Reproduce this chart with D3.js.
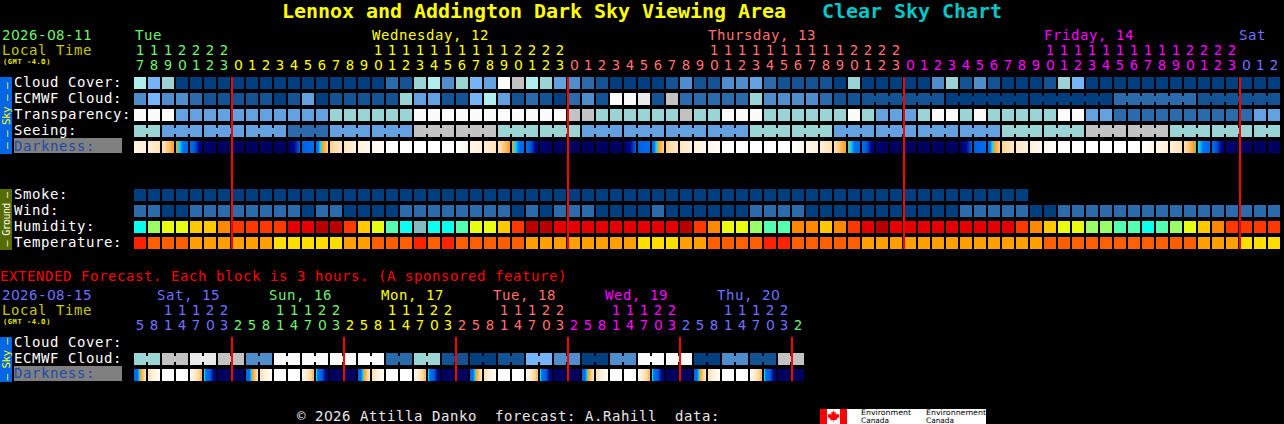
<!DOCTYPE html>
<html>
<head>
<meta charset="utf-8">
<script src="https://cdn.jsdelivr.net/npm/d3@7/dist/d3.min.js"></script>
<style>
@font-face { font-family: "PlainZero"; src: local("DejaVu Sans"), local("DejaVuSans"); unicode-range: U+30; }
html, body { margin: 0; padding: 0; background: #000; }
svg { display: block; }
text { font-family: "PlainZero", "DejaVu Sans Mono", monospace; white-space: pre; }
</style>
</head>
<body>
<svg id="chart" width="1284" height="424"></svg>
<script>
// ---------- data: main forecast (one value per hour) ----------
const cloudCover = [
  7,5,6,0,0,0,0,0,0,0,
  0,0,0,0,0,0,0,0,2,1,
  6,7,3,6,5,4,10,8,7,6,
  4,3,2,1,0,0,0,0,1,3,
  1,1,3,3,4,2,1,1,1,1,
  0,6,0,0,0,0,0,3,6,1,
  3,1,0,0,0,1,6,5,0,0,
  0,0,0,0,0,0,0,0,0,0,0,0];
const ecmwfCloud = [
  3,5,3,3,2,1,1,1,1,1,
  0,1,4,0,1,1,1,1,1,6,
  4,4,1,1,5,7,4,1,2,1,
  0,2,3,1,10,10,9,1,8,2,
  2,2,2,2,6,3,3,3,3,2,
  1,1,1,1,1,1,1,1,0,0,
  0,0,0,0,0,0,0,0,0,0,
  2,2,2,2,2,2,1,1,1,1,1,1];
const transparency = [
  10,10,10,4,4,4,4,4,4,4,
  4,4,4,4,6,6,6,6,6,6,
  10,10,10,10,10,10,10,10,10,10,
  10,8,8,6,6,6,6,6,6,8,
  6,6,10,10,10,6,6,6,6,6,
  6,10,6,4,4,4,6,10,10,6,
  10,6,6,6,6,6,10,10,4,4,
  2,2,2,2,2,2,2,2,2,2,4,4];
const seeing = [
  6,6,4,4,4,4,4,4,4,4,
  4,2,2,2,4,4,4,4,4,4,
  8,8,8,8,8,8,6,6,6,6,
  6,6,4,4,4,4,4,4,4,4,
  4,4,4,4,6,6,6,6,6,6,
  4,4,4,4,4,4,4,4,4,4,
  4,4,6,6,6,6,6,6,8,8,
  8,8,8,8,6,6,6,6,6,6,6,6];
// darkness at each block edge (0 = daylight ... 7 = fully dark); 83 edges for 82 blocks
const darknessEdges = [
  0.8,1.1,1.7,3,4.2,6.5,7,7,7,7,
  7,7,5,4,2.2,1.6,1,0.7,0.3,0,
  0,0,0,0,0.8,1.1,1.7,3,4.2,6.5,
  7,7,7,7,7,7,5,4,2.2,1.6,
  1,0.7,0.3,0,0,0,0,0,0.7,1.1,
  1.8,3.1,4.2,6.5,7,7,7,7,7,7,
  5,4,2.2,1.5,1,0.6,0.2,0,0,0,
  0,0,0.1,0.7,1.1,1.8,3.25,4.3,6.5,7,
  7,7,7];
const smoke = [
  0,0,0,0,0,0,0,0,0,0,
  0,0,0,0,0,0,0,0,0,0,
  0,0,0,0,0,0,0,0,0,0,
  0,0,0,0,0,0,0,0,0,0,
  0,0,0,0,0,0,0,0,0,0,
  0,0,0,0,0,0,0,0,0,0,
  0,0,0,0];
const wind = [
  2,2,0,0,2,2,2,2,2,2,
  2,2,0,2,2,0,0,0,0,2,
  2,2,2,2,2,2,2,0,2,0,
  2,2,2,0,0,0,0,2,0,0,
  0,0,0,0,2,2,2,2,0,0,
  0,0,0,0,0,0,0,0,0,2,
  2,2,2,2,0,0,2,2,2,2,
  2,2,2,2,2,2,2,2,2,2,2,2];
const humidity = [
  1,3,4,4,5,5,6,7,7,7,
  7,8,8,9,9,7,5,4,2,1,
  0,1,1,2,4,4,5,7,9,9,
  8,8,8,8,8,8,8,8,8,9,
  7,6,4,4,3,2,2,6,6,5,
  6,7,8,9,8,8,8,8,8,8,
  8,8,8,7,6,5,4,4,3,3,
  2,2,1,2,3,4,5,6,7,7,7,7];
const temperature = [
  3,2,2,2,1,1,1,1,1,1,
  0,0,0,0,0,1,1,2,2,2,
  3,2,3,2,2,2,2,2,1,1,
  1,1,1,1,1,1,0,0,0,1,
  1,2,2,2,2,3,3,2,2,2,
  2,2,1,1,1,1,1,1,1,1,
  1,1,1,1,1,2,2,2,2,2,
  2,2,2,2,2,2,1,1,1,0,0,0];

// block groups drawn joined together
const seeingGroupStarts = [0,2,5,8,11,14,17,20,23,26,29,32,35,38,41,44,47,50,53,56,59,62,65,68,71,74,77,80];
const ecmwfGroupStarts = [0,1,2,3,4,5,6,7,8,9,10,11,12,13,14,15,16,17,18,19,20,21,22,23,24,25,26,27,28,29,30,31,32,33,34,35,36,37,38,39,40,41,42,43,44,45,46,47,48,49,50,51,52,58,64,70,76];

// hour labels
const mainHours = [
  17,18,19,20,21,22,23,
  0,1,2,3,4,5,6,7,8,9,10,11,12,13,14,15,16,17,18,19,20,21,22,23,
  0,1,2,3,4,5,6,7,8,9,10,11,12,13,14,15,16,17,18,19,20,21,22,23,
  0,1,2,3,4,5,6,7,8,9,10,11,12,13,14,15,16,17,18,19,20,21,22,23,
  0,1,2];
const mainDayNames = ["Tue","Wednesday, 12","Thursday, 13","Friday, 14","Sat"];
const mainDayStartCols = [0,7,31,55,79];
const mainDayLabelCols = [0,17,41,65,79];
const dayColors = ["#70f070","#ffff00","#ff7070","#ff00ff","#7070ff"];

// ---------- data: extended forecast (one value per 3 hours) ----------
const extEcmwf = [
  6,6,8,8,9,9,8,8,3,3,10,10,10,10,10,10,10,10,2,2,6,6,1,1,
  0,0,1,1,5,5,3,3,0,0,3,3,10,10,10,10,0,0,3,3,1,1,8,8];
const extGroupStarts = [0,2,4,6,8,10,12,14,16,18,20,22,24,26,28,30,32,34,36,38,40,42,44,46];
const extDarkFrom = [
  4.6,1.7,0,0,0.5,3.2,6.9,7,
  4.6,1.7,0,0,0.5,3.2,6.9,7,
  4.5,1.7,0,0,0.5,3.2,6.9,7,
  4.5,1.7,0,0,0.5,3.2,6.9,7,
  4.5,1.7,0,0,0.5,3.2,6.9,7,
  4.5,1.7,0,0,0.5,3.2,6.9,7];
const extDarkTo = [
  1.7,0.3,0,0.1,2.7,6.8,7,7,
  1.7,0.3,0,0.1,2.7,6.8,7,7,
  1.6,0.3,0,0.1,2.7,6.8,7,7,
  1.6,0.3,0,0.1,2.7,6.8,7,7,
  1.6,0.3,0,0.1,2.7,6.8,7,7,
  1.6,0.3,0,0.1,2.7,6.8,7,7];
const extHours = [
  5,8,11,14,17,20,23,
  2,5,8,11,14,17,20,23,
  2,5,8,11,14,17,20,23,
  2,5,8,11,14,17,20,23,
  2,5,8,11,14,17,20,23,
  2,5,8,11,14,17,20,23,
  2];
const extDayNames = ["Sat, 15","Sun, 16","Mon, 17","Tue, 18","Wed, 19","Thu, 20",""];
const extDayStartCols = [0,7,15,23,31,39,47];
const extDayLabelCols = [1.64,9.64,17.64,25.64,33.64,41.64];
const extDayColors = ["#7070ff","#70f070","#ffff00","#ff7070","#ff00ff","#7070ff","#70f070"];

// labels
const skyRows = ["Cloud Cover:","ECMWF Cloud:","Transparency:","Seeing:"];
const groundRows = ["Smoke:","Wind:","Humidity:","Temperature:"];
const extRows = ["Cloud Cover:","ECMWF Cloud:"];
const footerText = "\u00a9 2026 Attilla Danko  forecast: A.Rahill  data:";

// ---------- colour scales ----------
const cloudColor = d3.scaleOrdinal(d3.range(11),
  ["#003f7f","#135394","#2c6bab","#4f8dcd","#63a1e1","#77b5fb","#9ad4d4","#aeeeee","#c2c2c2","#eaeaea","#fbfbfb"]);
const humidColor = d3.scaleOrdinal(d3.range(10),
  ["#82bcc0","#0cffee","#55ffb0","#9aff66","#e8ff14","#ffc800","#ff8800","#ff3800","#e40000","#b80000"]);
const tempColor = d3.scaleOrdinal(d3.range(4), ["#ffde00","#ff9f00","#ff5f00","#ff2200"]);
const darkColor = d3.scaleLinear()
  .domain([0,0.3,1,2,3,3.35,3.7,4.8,5.4,6,7])
  .range(["#ffffff","#fffdf8","#fff2de","#ffdca8","#ffa020","#00d8ff","#0070f0","#0064e4","#0040c0","#000090","#000060"]);

// ---------- layout scales ----------
const BLOCK = 12, STEP = 14, LEFT = 134, FONT = 14;
const xCol = d3.scaleLinear().domain([0,1]).range([LEFT, LEFT+STEP]);
const yMain = d3.scaleLinear().domain([0,1]).range([77,93]);
const yGround = d3.scaleLinear().domain([0,1]).range([189,205]);
const yExt = d3.scaleLinear().domain([0,1]).range([337,353]);

const svg = d3.select("#chart");
svg.append("rect").attr("width",1284).attr("height",424).attr("fill","#000");
const gMarks = svg.append("g").attr("shape-rendering","crispEdges");
const gText = svg.append("g");

// monospaced text: every character gets its own position
function mono(str, x, y, adv, color, size, weight) {
  return gText.append("text")
    .attr("x", Array.from(str, (c,i) => +(x + i*adv).toFixed(2)).join(" "))
    .attr("y", y).attr("fill", color)
    .attr("font-size", size).attr("font-weight", weight || "normal")
    .text(str);
}

function groupIndex(starts, n) {
  const bis = d3.bisector(d => d).right;
  return d3.range(n).map(i => bis(starts, i));
}

// plain row of blocks, optionally joined inside groups
function blockRow(values, rowTop, colorFn, groups, height) {
  const g = gMarks.append("g");
  g.selectAll("rect.b").data(values).join("rect").attr("class","b")
    .attr("x",(d,i)=>xCol(i)).attr("y",rowTop).attr("width",BLOCK).attr("height",height||BLOCK)
    .attr("fill",d=>colorFn(d));
  if (groups) {
    const joins = d3.range(values.length-1).filter(i => groups[i]===groups[i+1]);
    g.selectAll("rect.j").data(joins).join("rect").attr("class","j")
      .attr("x",i=>xCol(i)+BLOCK).attr("y",rowTop+3).attr("width",STEP-BLOCK).attr("height",6)
      .attr("fill",i=>colorFn(values[i]));
  }
}

// darkness row: gradient inside each block, one pixel column at a time
function darkRow(from, to, rowTop) {
  const n = from.length;
  const px = [];
  for (let i=0;i<n;i++) for (let p=0;p<BLOCK;p++) {
    px.push({i,p,v:from[i]+(to[i]-from[i])*(p+0.5)/BLOCK});
  }
  gMarks.append("g").selectAll("rect").data(px).join("rect")
    .attr("x",d=>xCol(d.i)+d.p).attr("y",rowTop).attr("width",1).attr("height",BLOCK)
    .attr("fill",d=>darkColor(d.v));
}

// ---------- main rows ----------
blockRow(cloudCover, yMain(0), cloudColor);
blockRow(ecmwfCloud, yMain(1), cloudColor, groupIndex(ecmwfGroupStarts, ecmwfCloud.length));
blockRow(transparency, yMain(2), cloudColor);
blockRow(seeing, yMain(3), cloudColor, groupIndex(seeingGroupStarts, seeing.length));
darkRow(darknessEdges.slice(0,-1), darknessEdges.slice(1), yMain(4));
blockRow(smoke, yGround(0), cloudColor);
blockRow(wind, yGround(1), cloudColor);
blockRow(humidity, yGround(2), humidColor);
blockRow(temperature, yGround(3), tempColor);

// ---------- extended rows ----------
blockRow(extEcmwf, yExt(1), cloudColor, groupIndex(extGroupStarts, extEcmwf.length));
darkRow(extDarkFrom, extDarkTo, yExt(2));

// ---------- sidebars and label boxes ----------
gMarks.append("rect").attr("x",0).attr("y",77).attr("width",12).attr("height",77).attr("fill","#0066e6");
gMarks.append("rect").attr("x",0).attr("y",189).attr("width",12).attr("height",61).attr("fill","#566c00");
gMarks.append("rect").attr("x",0).attr("y",337).attr("width",12).attr("height",45).attr("fill","#0066e6");
gMarks.append("rect").attr("x",14).attr("y",138).attr("width",108).attr("height",15).attr("fill","#808080");
gMarks.append("rect").attr("x",14).attr("y",366).attr("width",108).attr("height",15).attr("fill","#808080");

function sideText(str, cy, color, size, adv) {
  gText.append("text")
    .attr("transform",`translate(9.8,${cy}) rotate(-90)`)
    .attr("x", Array.from(str,(c,i)=>+((i-str.length/2)*adv).toFixed(2)).join(" "))
    .attr("y",0).attr("fill",color).attr("font-size",size).text(str);
}
sideText("\u2013 \u2013 Sky \u2013 \u2013",116,"#ffff00",11,6);
sideText("\u2013 Ground \u2013",219.5,"#ffffff",10,5.4);
sideText("\u2013 Sky \u2013",359.5,"#ffff00",11,6);

// ---------- midnight lines ----------
const mainMidnights = mainDayStartCols.slice(1);
gMarks.append("g").selectAll("rect").data(mainMidnights).join("rect")
  .attr("x",d=>xCol(d)-1).attr("y",77).attr("width",2).attr("height",172).attr("fill","#ff0000");
const extMidnights = extDayStartCols.slice(1);
gMarks.append("g").selectAll("rect").data(extMidnights).join("rect")
  .attr("x",d=>xCol(d)-1).attr("y",337).attr("width",2).attr("height",44).attr("fill","#ff0000");

// ---------- titles ----------
mono("Lennox and Addington Dark Sky Viewing Area", 282, 18, 12, "#ffff00", 20, "bold");
mono("Clear Sky Chart", 822, 18, 12, "#00c8c8", 20, "bold");

// ---------- header texts ----------
function header(dateStr, dateColor, y0) {
  mono(dateStr, 2, y0, 9, dateColor, FONT);
  mono("Local Time", 2, y0+15, 9, "#c8c800", FONT);
  mono("(GMT -4.0)", 3, y0+24, 4.8, "#e8e800", 7, "bold");
}
header("2026-08-11", "#70f070", 40);
header("2026-08-15", "#7070ff", 300);

function colorFor(starts, colors) {
  return i => colors[d3.bisectRight(starts, i) - 1];
}
function hourLabels(hours, starts, colors, yTens, yUnits) {
  const c = colorFor(starts, colors);
  hours.forEach((h,i) => {
    const cx = xCol(i) + BLOCK/2;
    if (h >= 10) gText.append("text").attr("x",cx).attr("y",yTens).attr("text-anchor","middle")
      .attr("fill",c(i)).attr("font-size",FONT).text(Math.floor(h/10));
    gText.append("text").attr("x",cx).attr("y",yUnits).attr("text-anchor","middle")
      .attr("fill",c(i)).attr("font-size",FONT).text(h%10);
  });
}
hourLabels(mainHours, mainDayStartCols, dayColors, 55, 70);
hourLabels(extHours, extDayStartCols, extDayColors, 315, 330);

mainDayNames.forEach((d,i) => mono(d, xCol(mainDayLabelCols[i])+ (i===0?1:0) + (i===4?-1:0), 40, 9, dayColors[i], FONT));
extDayLabelCols.forEach((c,i) => mono(extDayNames[i], xCol(c), 300, 9, extDayColors[i], FONT));

// ---------- row labels ----------
skyRows.forEach((s,i) => mono(s, 14, yMain(i)+10, 9, "#ffffff", FONT));
mono("Darkness:", 14, yMain(4)+10, 9, "#1f4aa8", FONT);
groundRows.forEach((s,i) => mono(s, 14, yGround(i)+10, 9, "#ffffff", FONT));
extRows.forEach((s,i) => mono(s, 14, yExt(i)+10, 9, "#ffffff", FONT));
mono("Darkness:", 14, yExt(2)+9, 9, "#1f4aa8", FONT);

mono("EXTENDED Forecast. Each block is 3 hours. (A sponsored feature)", 0, 281, 9, "#ff0000", FONT);
mono(footerText, 297, 421, 9, "#e8e8e8", FONT);

// ---------- Environment Canada logo ----------
const logo = svg.append("g");
logo.append("rect").attr("x",820).attr("y",409).attr("width",166).attr("height",15).attr("fill","#ffffff").attr("shape-rendering","crispEdges");
logo.append("rect").attr("x",820).attr("y",409).attr("width",7).attr("height",15).attr("fill","#ff0000").attr("shape-rendering","crispEdges");
logo.append("rect").attr("x",840).attr("y",409).attr("width",7).attr("height",15).attr("fill","#ff0000").attr("shape-rendering","crispEdges");
logo.append("path").attr("fill","#ff0000")
  .attr("d","M833.5 410.5 l1.3 2.2 1.2-.6 -.5 3 1.6-1.6 .4 1 2-.3 -.7 2 .8.5 -3.2 2.4 .3 1.1 -2.9-.3 V422 h-.6 V419.9 l-2.9 .3 .3-1.1 -3.2-2.4 .8-.5 -.7-2 2 .3 .4-1 1.6 1.6 -.5-3 1.2 .6z");
function logoText(str, x, y, w) {
  logo.append("text").attr("x",x).attr("y",y).attr("fill","#000")
    .attr("font-size",7.5).style("font-family","'DejaVu Sans'")
    .attr("textLength",w).attr("lengthAdjust","spacingAndGlyphs").text(str);
}
logoText("Environment",861,415,50);
logoText("Canada",861,423,28);
logoText("Environnement",926,415,60);
logoText("Canada",926,423,28);
</script>
</body>
</html>
